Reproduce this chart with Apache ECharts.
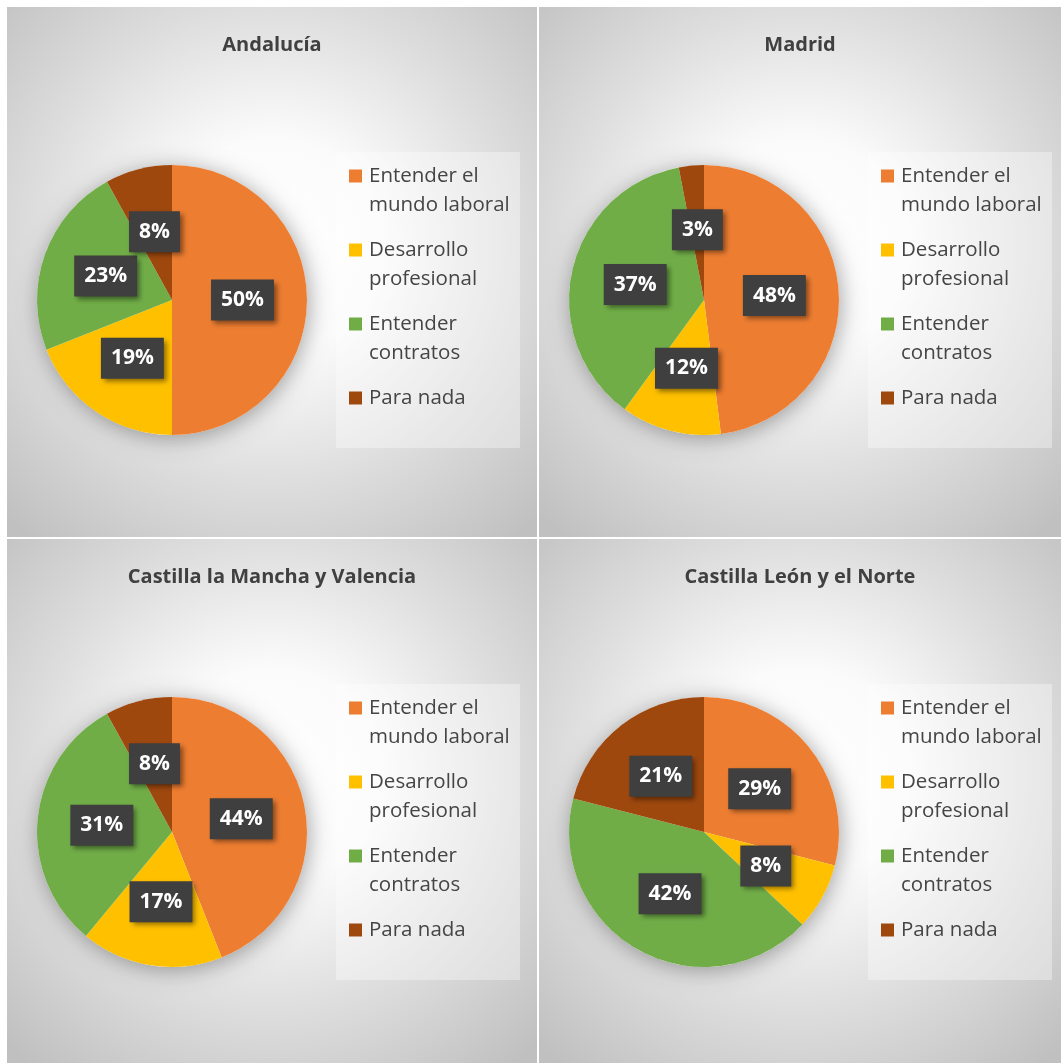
<!DOCTYPE html>
<html>
<head>
<meta charset="utf-8">
<script src="https://cdn.jsdelivr.net/npm/echarts@6/dist/echarts.min.js"></script>
<style>
html,body{margin:0;padding:0;background:#fff;}
#c{width:1061px;height:1063px;}
</style>
</head>
<body>
<div id="c"></div>
<script>
// ---- data ----
const categories = ['Entender el mundo laboral', 'Desarrollo profesional', 'Entender contratos', 'Para nada'];
const legendLabels = ['Entender el\nmundo laboral', 'Desarrollo\nprofesional', 'Entender\ncontratos', 'Para nada\n '];
const regions = ['Andalucía', 'Madrid', 'Castilla la Mancha y Valencia', 'Castilla León y el Norte'];
const andalucia = [50, 19, 23, 8];
const madrid = [48, 12, 37, 3];
const castillaManchaValencia = [44, 17, 31, 8];
const castillaLeonNorte = [29, 8, 42, 21];
const regionValues = [andalucia, madrid, castillaManchaValencia, castillaLeonNorte];

// ---- style / layout ----
const colors = ['#ED7D31', '#FFC000', '#70AD47', '#9E480E'];
const FONT = '"Open Sans", "Noto Sans", sans-serif';
const panels = [
  {x: 7, y: 7, w: 530, h: 530},
  {x: 539, y: 7, w: 522, h: 530},
  {x: 7, y: 539, w: 530, h: 524},
  {x: 539, y: 539, w: 522, h: 524}
];
const R = 135;

const chart = echarts.init(document.getElementById('c'), null, {renderer: 'canvas'});

const graphic = [];
const series = [];
const legends = [];

panels.forEach((p, i) => {
  graphic.push({
    type: 'rect', z: -10, silent: true,
    shape: {x: p.x, y: p.y, width: p.w, height: p.h},
    style: {
      fill: {
        type: 'radial', x: 0.5, y: 0.45, r: 0.72,
        colorStops: [
          {offset: 0, color: '#ffffff'},
          {offset: 0.28, color: '#fbfbfb'},
          {offset: 0.62, color: '#dedede'},
          {offset: 1, color: '#c0c0c0'}
        ]
      }
    }
  });
  graphic.push({
    type: 'rect', z: -9, silent: true,
    shape: {x: p.x + 329, y: p.y + 145, width: 184, height: 296},
    style: {fill: 'rgba(255,255,255,0.35)'}
  });
  graphic.push({
    type: 'text', z: 10, silent: true,
    x: p.x + p.w / 2, y: p.y + 38,
    style: {
      text: regions[i], align: 'center', verticalAlign: 'middle',
      font: 'bold 20px ' + FONT, fill: '#404040'
    }
  });

  const cx = p.x + 165, cy = p.y + 293;
  // soft shadow under the pie
  series.push({
    type: 'pie', silent: true, center: [cx, cy], radius: [0, R],
    label: {show: false}, labelLine: {show: false},
    itemStyle: {color: '#ffffff', shadowBlur: 22, shadowColor: 'rgba(0,0,0,0.35)', shadowOffsetX: 2, shadowOffsetY: 3},
    data: [{value: 1, name: '_shadow' + i}]
  });
  series.push({
    type: 'pie', name: regions[i], center: [cx, cy], radius: [0, R],
    startAngle: 90, clockwise: true, silent: true,
    itemStyle: {borderWidth: 0},
    label: {
      show: true, position: 'inside', formatter: '{c}%',
      color: '#ffffff', fontFamily: FONT, fontWeight: 'bold', fontSize: 21, lineHeight: 23,
      backgroundColor: '#3f3f3f', padding: [10, 10, 8, 10],
      shadowColor: 'rgba(0,0,0,0.45)', shadowBlur: 5, shadowOffsetX: 3, shadowOffsetY: 3
    },
    labelLine: {show: false},
    data: categories.map((c, k) => ({name: c, value: regionValues[i][k], itemStyle: {color: colors[k]}}))
  });
  legends.push({
    orient: 'vertical', left: p.x + 342, top: p.y + 125.5, padding: 0,
    itemWidth: 13, itemHeight: 13, itemGap: -13, icon: 'rect',
    selectedMode: false,
    formatter: name => '\n' + legendLabels[categories.indexOf(name)],
    textStyle: {fontFamily: FONT, fontSize: 20.5, lineHeight: 29, color: '#454545', padding: [0, 0, 0, 2]},
    data: categories.slice()
  });
});

chart.setOption({
  backgroundColor: '#ffffff',
  animation: false,
  color: colors,
  graphic: graphic,
  legend: legends,
  series: series
});
</script>
</body>
</html>
